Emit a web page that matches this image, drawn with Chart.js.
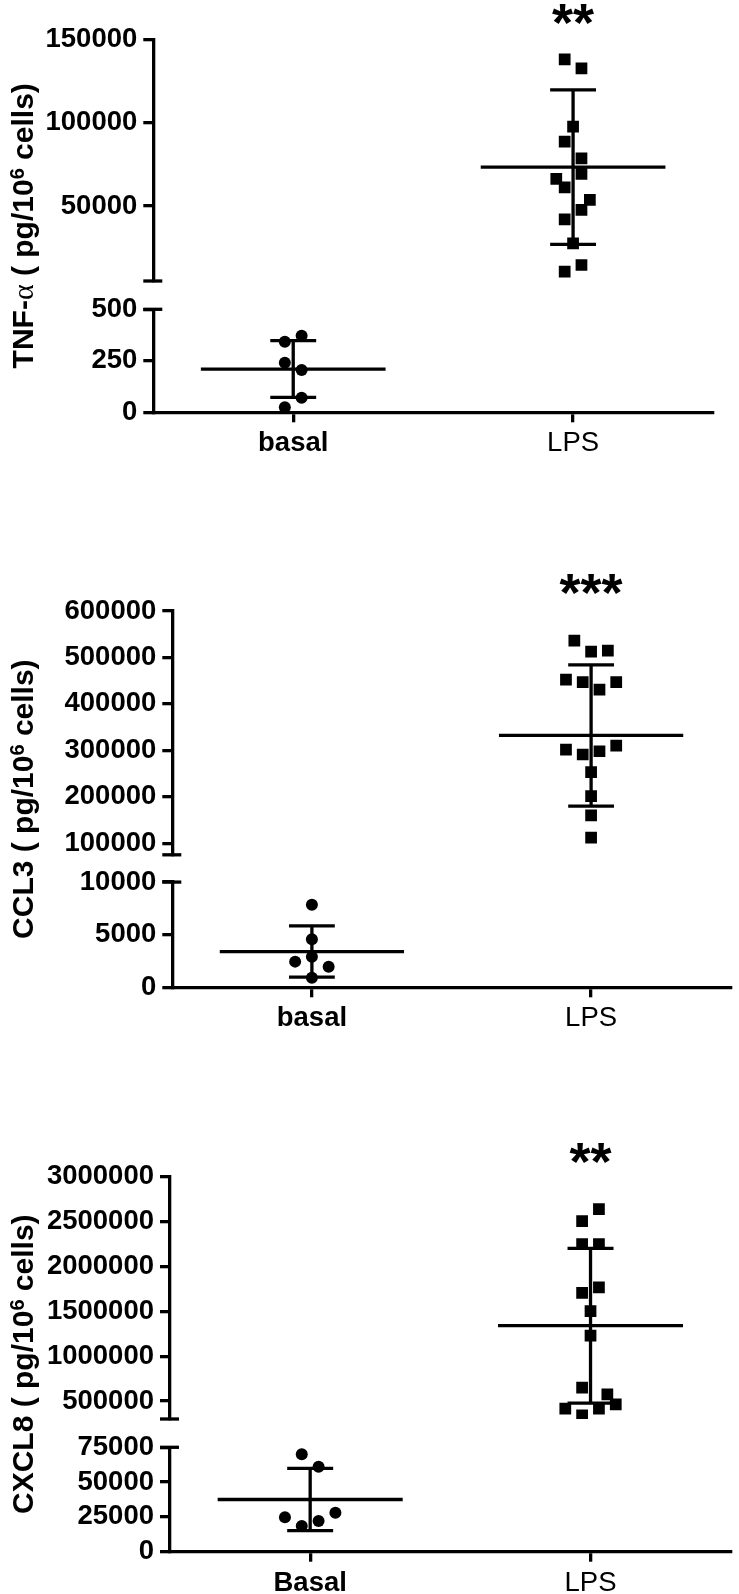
<!DOCTYPE html>
<html lang="en">
<head>
<meta charset="UTF-8">
<title>TNF-α, CCL3, CXCL8: basal vs LPS</title>
<script src="https://cdn.jsdelivr.net/npm/chart.js"></script>
<style>
  html, body { margin: 0; padding: 0; background: #fff; }
  body { width: 739px; height: 1594px; position: relative; overflow: hidden; }
  .panel { position: absolute; left: 0; width: 739px; }
</style>
</head>
<body>
<div class="panel" style="top:0;height:470px"><canvas id="tnf"></canvas></div>
<div class="panel" style="top:530px;height:530px"><canvas id="ccl3"></canvas></div>
<div class="panel" style="top:1100px;height:494px"><canvas id="cxcl8"></canvas></div>

<script>
// ---- data (pg / 10^6 cells) ----
const groupsLower = ['basal', 'LPS'];
const groupsUpper = ['Basal', 'LPS'];

// TNF-alpha
const tnfBasal = [372, 343, 241, 205, 71, 24];
const tnfBasalJit = [1, -1, -1, 1, 1, -1];
const tnfLps = [138000, 132600, 97600, 88600, 78600, 69200, 66200, 61200, 53600, 47600, 42000, 27600, 14600, 10600];
const tnfLpsJit = [-1, 1, 0, -1, 1, 1, -2, -1, 2, 1, -1, 0, 1, -1];
const tnfMean = [210, 73300];
const tnfSd = [138, 46300];
const tnfRangeLo = [0, 500];
const tnfRangeHi = [5000, 150000];
const tnfTicksLo = [0, 250, 500];
const tnfTicksHi = [50000, 100000, 150000];

// CCL3
const ccl3Basal = [7840, 4570, 2910, 2440, 1960, 915];
const ccl3BasalJit = [0, 0, 0, -2, 2, 0];
const ccl3Lps = [536000, 512700, 514800, 452000, 447000, 430500, 447000, 301700, 291000, 298000, 310300, 253000, 201500, 160000, 112200];
const ccl3LpsJit = [-2, 0, 2, -3, -1, 1, 3, -3, -1, 1, 3, 0, 0, 0, 0];
const ccl3Mean = [3400, 332000];
const ccl3Sd = [2430, 152000];
const ccl3RangeLo = [0, 10000];
const ccl3RangeHi = [75000, 600000];
const ccl3TicksLo = [0, 5000, 10000];
const ccl3TicksHi = [100000, 200000, 300000, 400000, 500000, 600000];

// CXCL8
const cxcl8Basal = [70000, 61100, 24700, 28000, 22000, 18500];
const cxcl8BasalJit = [-1, 1, -3, 3, 1, -1];
const cxcl8Lps = [2639500, 2505600, 2249000, 2249000, 1765600, 1706000, 1501000, 1229700, 649600, 574800, 463200, 415000, 415000, 340500];
const cxcl8LpsJit = [1, -1, -1, 1, 1, -1, 0, 0, -1, 2, 3, -3, 1, -1];
const cxcl8Mean = [37500, 1340000];
const cxcl8Sd = [22400, 862000];
const cxcl8RangeLo = [0, 75000];
const cxcl8RangeHi = [300000, 3000000];
const cxcl8TicksLo = [0, 25000, 50000, 75000];
const cxcl8TicksHi = [500000, 1000000, 1500000, 2000000, 2500000, 3000000];

// ---- drawing ----
const FONT = "'Liberation Sans', Arial, Helvetica, sans-serif";
const BLACK = '#000';
const LW = 3.3;          // line width of axes and bars
const JIT = 0.03;        // jitter step in category units
const MEAN_HALF = 0.33;  // half length of the mean line
const CAP_HALF = 0.082;  // half length of the SD caps

function columnPoints(center, values, jitter) {
  return values.map((v, i) => ({ x: center + jitter[i] * JIT, y: v }));
}

function segment(x1, y1, x2, y2, axis) {
  return {
    data: [{ x: x1, y: y1 }, { x: x2, y: y2 }],
    showLine: true, borderColor: BLACK, borderWidth: LW,
    pointRadius: 0, yAxisID: axis
  };
}

function summary(c, mean, sd, axis) {
  return [
    segment(c - MEAN_HALF, mean, c + MEAN_HALF, mean, axis),
    segment(c, mean - sd, c, mean + sd, axis),
    segment(c - CAP_HALF, mean + sd, c + CAP_HALF, mean + sd, axis),
    segment(c - CAP_HALF, mean - sd, c + CAP_HALF, mean - sd, axis)
  ];
}

// break marks, y title and significance stars
const decor = {
  id: 'decor',
  afterDraw(chart, args, o) {
    const ctx = chart.ctx;
    const hi = chart.scales.yHi, lo = chart.scales.yLo, xs = chart.scales.x;
    const ax = hi.right;
    ctx.save();
    ctx.strokeStyle = BLACK;
    ctx.lineWidth = LW;
    [hi.bottom, lo.top].forEach(y => {
      ctx.beginPath();
      ctx.moveTo(ax - 10, y);
      ctx.lineTo(ax + 9, y);
      ctx.stroke();
    });

    ctx.fillStyle = BLACK;
    ctx.font = 'bold 54px ' + FONT;
    ctx.textAlign = 'center';
    ctx.textBaseline = 'alphabetic';
    const m = ctx.measureText(o.stars);
    const sy = chart.chartArea.top - o.starGap;
    ctx.fillText(o.stars, xs.getPixelForValue(1.5), sy + (m.actualBoundingBoxAscent - m.actualBoundingBoxDescent) / 2);

    const fonts = {
      b: 'bold 30px ' + FONT,
      g: "30px 'Liberation Serif', 'DejaVu Serif', serif",
      s: 'bold 20px ' + FONT
    };
    let total = 0;
    o.title.forEach(p => { ctx.font = fonts[p[1]]; total += ctx.measureText(p[0]).width; });
    const cy = (chart.chartArea.top + chart.chartArea.bottom) / 2;
    ctx.translate(33, cy);
    ctx.rotate(-Math.PI / 2);
    ctx.textAlign = 'left';
    let x = -total / 2;
    o.title.forEach(p => {
      ctx.font = fonts[p[1]];
      ctx.fillText(p[0], x, p[1] === 's' ? -9 : 0);
      x += ctx.measureText(p[0]).width;
    });
    ctx.restore();
  }
};

function yAxis(range, ticks, weight, width) {
  return {
    type: 'linear', position: 'left', stack: 'y', stackWeight: weight,
    min: range[0], max: range[1],
    afterBuildTicks: s => { s.ticks = ticks.map(v => ({ value: v })); },
    afterFit: s => { s.width = width; },
    border: { color: BLACK, width: LW },
    grid: { drawOnChartArea: false, color: BLACK, lineWidth: LW, tickLength: 10 },
    ticks: {
      color: BLACK, padding: 6, autoSkip: false,
      font: { family: FONT, size: 27.5, weight: 'bold' },
      callback: v => String(v)
    }
  };
}

function buildChart(id, labels, basal, basalJit, lps, lpsJit, mean, sd,
                    rangeLo, rangeHi, ticksLo, ticksHi, title, stars, L) {
  new Chart(document.getElementById(id), {
    type: 'scatter',
    data: {
      datasets: [
        ...summary(0.5, mean[0], sd[0], 'yLo'),
        ...summary(1.5, mean[1], sd[1], 'yHi'),
        { data: columnPoints(0.5, basal, basalJit), yAxisID: 'yLo', pointStyle: 'circle',
          pointRadius: 6, backgroundColor: BLACK, borderWidth: 0 },
        { data: columnPoints(1.5, lps, lpsJit), yAxisID: 'yHi', pointStyle: 'rect',
          pointRadius: 8.3, backgroundColor: BLACK, borderWidth: 0 }
      ]
    },
    options: {
      responsive: true, maintainAspectRatio: false, animation: false,
      layout: { padding: { top: L.top, right: L.right, bottom: 0, left: 0 } },
      plugins: {
        legend: { display: false }, tooltip: { enabled: false },
        decor: { title: title, stars: stars, starGap: L.starGap }
      },
      scales: {
        x: {
          type: 'linear', position: 'bottom', min: 0, max: 2,
          afterBuildTicks: s => { s.ticks = [{ value: 0.5 }, { value: 1.5 }]; },
          afterFit: s => { s.height = L.xh; },
          border: { color: BLACK, width: LW },
          grid: { drawOnChartArea: false, color: BLACK, lineWidth: LW, tickLength: 10 },
          ticks: {
            color: BLACK, padding: 5, maxRotation: 0, autoSkip: false,
            callback: (v, i) => labels[i],
            font: c => ({ family: FONT, size: 27.5, weight: c.index === 0 ? 'bold' : 'normal' })
          }
        },
        yLo: yAxis(rangeLo, ticksLo, L.w[2], L.yw),
        yGap: {
          type: 'linear', position: 'left', stack: 'y', stackWeight: L.w[1], min: 0, max: 1,
          afterFit: s => { s.width = L.yw; },
          border: { display: false }, grid: { display: false }, ticks: { display: false }
        },
        yHi: yAxis(rangeHi, ticksHi, L.w[0], L.yw)
      }
    },
    plugins: [decor]
  });
}

buildChart('tnf', groupsLower, tnfBasal, tnfBasalJit, tnfLps, tnfLpsJit, tnfMean, tnfSd,
  tnfRangeLo, tnfRangeHi, tnfTicksLo, tnfTicksHi,
  [['TNF-', 'b'], ['α', 'g'], [' ( pg/10', 'b'], ['6', 's'], [' cells)', 'b']], '**',
  { top: 39.3, right: 26, xh: 57.7, yw: 153.3, w: [241.7, 28.3, 103], starGap: 24.5 });

buildChart('ccl3', groupsLower, ccl3Basal, ccl3BasalJit, ccl3Lps, ccl3LpsJit, ccl3Mean, ccl3Sd,
  ccl3RangeLo, ccl3RangeHi, ccl3TicksLo, ccl3TicksHi,
  [['CCL3 ( pg/10', 'b'], ['6', 's'], [' cells)', 'b']], '***',
  { top: 81, right: 4, xh: 72.7, yw: 172.3, w: [244, 27.3, 105.3], starGap: 27 });

buildChart('cxcl8', groupsUpper, cxcl8Basal, cxcl8BasalJit, cxcl8Lps, cxcl8LpsJit, cxcl8Mean, cxcl8Sd,
  cxcl8RangeLo, cxcl8RangeHi, cxcl8TicksLo, cxcl8TicksHi,
  [['CXCL8 ( pg/10', 'b'], ['6', 's'], [' cells)', 'b']], '**',
  { top: 76.7, right: 7, xh: 42.3, yw: 170, w: [242.3, 28.3, 104.4], starGap: 23.5 });
</script>
</body>
</html>
